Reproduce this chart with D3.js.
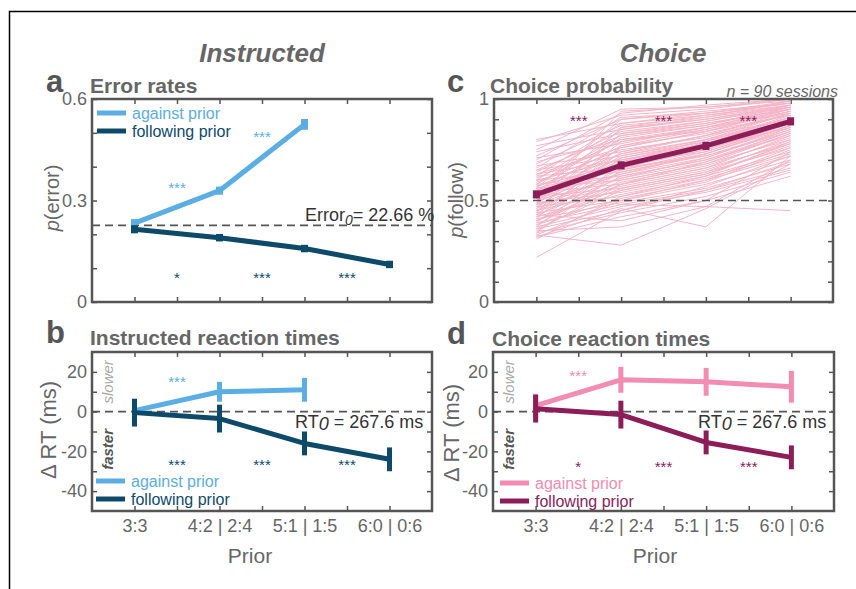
<!DOCTYPE html>
<html>
<head>
<meta charset="utf-8">
<script src="https://cdn.jsdelivr.net/npm/d3@7"></script>
<style>
  body { margin: 0; background: #fff; }
  text { font-family: "Liberation Sans", Arial, sans-serif; }
</style>
</head>
<body>
<div id="plot"></div>
<script>
// ---- data ----
let priorLabels = ["3:3", "4:2 | 2:4", "5:1 | 1:5", "6:0 | 0:6"]
let priorIdx = [1, 2, 3, 4]
let starPos = [1.5, 2.5, 3.5]

let errAgainst = [0.233, 0.329, 0.525]
let errAgainstSE = [0.012, 0.012, 0.016]
let errFollow = [0.215, 0.190, 0.158, 0.111]
let errFollowSE = [0.012, 0.011, 0.011, 0.011]
let errBaseline = 0.2266
let errStarsAgainst = ["***", "***"]
let errStarsAgainstY = [0.344, 0.494]
let errStarsFollow = ["*", "***", "***"]
let errStarsFollowY = 0.078

let choiceMean = [0.53, 0.673, 0.769, 0.89]
let choiceSE = [0.02, 0.02, 0.02, 0.02]
let choiceStars = ["***", "***", "***"]
let choiceStarsY = 0.9
let sessions = [
  [0.80,0.88,0.93,0.98],[0.79,0.92,0.95,1.00],[0.77,0.85,0.90,0.97],[0.75,0.95,0.96,0.99],
  [0.74,0.83,0.88,0.95],[0.72,0.90,0.94,0.98],[0.71,0.78,0.86,0.93],[0.70,0.93,0.97,1.00],
  [0.69,0.80,0.84,0.92],[0.68,0.87,0.91,0.97],[0.67,0.74,0.82,0.90],[0.66,0.91,0.93,0.99],
  [0.65,0.72,0.80,0.88],[0.64,0.84,0.89,0.96],[0.63,0.70,0.76,0.86],[0.62,0.88,0.92,0.97],
  [0.62,0.66,0.79,0.91],[0.61,0.79,0.85,0.94],[0.60,0.64,0.72,0.84],[0.60,0.86,0.90,0.96],
  [0.59,0.75,0.81,0.93],[0.58,0.62,0.70,0.82],[0.58,0.82,0.88,0.95],[0.57,0.68,0.78,0.90],
  [0.56,0.90,0.93,0.98],[0.56,0.60,0.68,0.80],[0.55,0.77,0.83,0.92],[0.55,0.65,0.74,0.87],
  [0.54,0.85,0.91,0.99],[0.54,0.58,0.66,0.78],[0.53,0.73,0.80,0.91],[0.53,0.63,0.71,0.85],
  [0.52,0.81,0.87,0.96],[0.52,0.56,0.64,0.76],[0.51,0.70,0.77,0.89],[0.51,0.94,0.96,1.00],
  [0.50,0.61,0.69,0.83],[0.50,0.76,0.84,0.94],[0.49,0.54,0.62,0.74],[0.49,0.67,0.75,0.88],
  [0.48,0.83,0.89,0.97],[0.48,0.57,0.65,0.79],[0.47,0.72,0.79,0.92],[0.47,0.52,0.60,0.72],
  [0.46,0.64,0.73,0.86],[0.46,0.79,0.86,0.95],[0.45,0.55,0.63,0.77],[0.45,0.69,0.76,0.90],
  [0.44,0.50,0.58,0.70],[0.44,0.86,0.92,0.98],[0.43,0.59,0.67,0.81],[0.43,0.74,0.82,0.93],
  [0.42,0.53,0.61,0.73],[0.42,0.66,0.72,0.85],[0.41,0.49,0.56,0.68],[0.41,0.77,0.85,0.95],
  [0.40,0.56,0.64,0.80],[0.40,0.62,0.70,0.84],[0.39,0.48,0.55,0.66],[0.39,0.71,0.78,0.91],
  [0.38,0.51,0.59,0.75],[0.38,0.60,0.68,0.83],[0.37,0.47,0.54,0.65],[0.37,0.68,0.74,0.88],
  [0.36,0.45,0.57,0.72],[0.36,0.55,0.63,0.78],[0.35,0.37,0.47,0.70],[0.35,0.58,0.66,0.82],
  [0.34,0.44,0.52,0.64],[0.34,0.65,0.73,0.87],[0.33,0.28,0.46,0.68],[0.33,0.50,0.60,0.76],
  [0.32,0.42,0.50,0.62],[0.32,0.46,0.37,0.72],[0.31,0.52,0.62,0.79],[0.22,0.45,0.55,0.69],
  [0.55,0.48,0.47,0.45],[0.60,0.70,0.78,0.90],[0.57,0.73,0.82,0.94],[0.63,0.76,0.84,0.95],
  [0.52,0.67,0.76,0.89],[0.48,0.63,0.73,0.87],[0.45,0.61,0.71,0.86],[0.58,0.80,0.86,0.96],
  [0.65,0.82,0.87,0.97],[0.40,0.58,0.69,0.84],[0.50,0.69,0.80,0.93],[0.43,0.40,0.50,0.74],
  [0.53,0.71,0.79,0.91],[0.56,0.66,0.75,0.88]
]

let rtInstrAgainst = [0.5, 10, 11]
let rtInstrAgainstSE = [2, 5, 6]
let rtInstrFollow = [-0.5, -3.5, -16, -24]
let rtInstrFollowSE = [7, 7, 6, 6]
let rtInstrStarsAgainst = ["***"]
let rtInstrStarsAgainstY = 16
let rtInstrStarsFollow = ["***", "***", "***"]
let rtInstrStarsFollowY = -26

let rtChoiceAgainst = [3, 16, 15, 12.5]
let rtChoiceAgainstSE = [6, 6.5, 7, 8]
let rtChoiceFollow = [1.5, -1.5, -15.5, -23]
let rtChoiceFollowSE = [7, 7, 6, 6]
let rtChoiceStarsAgainst = ["***"]
let rtChoiceStarsAgainstY = 19
let rtChoiceStarsFollow = ["*", "***", "***"]
let rtChoiceStarsFollowY = -27

// ---- colours ----
let lightBlue = "#5aaee3"
let darkBlue = "#0d4a6a"
let pink = "#f28cb0"
let plum = "#8c1d58"
let sessionPink = "#f5b5c9"
let axisGray = "#555"
let labelGray = "#666"

let svg = d3.select("#plot").append("svg")
  .attr("width", 856).attr("height", 589)

svg.append("rect").attr("width", 856).attr("height", 589).attr("fill", "#fff")

// outer frame (left + top)
svg.append("path")
  .attr("d", "M9.5,589 V11.5 H856")
  .attr("fill", "none").attr("stroke", "#000").attr("stroke-width", 1.5)

function makePanel(box, yDomain, yTickVals, yLabelVals, yFmt, showX) {
  let x = d3.scaleLinear().domain([0.5, 4.5]).range([box.x0, box.x1])
  let y = d3.scaleLinear().domain(yDomain).range([box.y1, box.y0])
  let g = svg.append("g")
  let xt = d3.range(1, 4.01, 0.5)

  let axes = g.append("g").attr("class", "axes")
  axes.append("g").attr("transform", `translate(0,${box.y1})`)
    .call(d3.axisBottom(x).tickValues(xt).tickSize(-5).tickPadding(8)
      .tickFormat(d => (showX && Number.isInteger(d)) ? priorLabels[d - 1] : ""))
  axes.append("g").attr("transform", `translate(0,${box.y0})`)
    .call(d3.axisTop(x).tickValues(xt).tickSize(-5).tickFormat(""))
  axes.append("g").attr("transform", `translate(${box.x0},0)`)
    .call(d3.axisLeft(y).tickValues(yTickVals).tickSize(-5).tickPadding(5)
      .tickFormat(d => yLabelVals.some(v => Math.abs(v - d) < 1e-9) ? yFmt(d) : ""))
  axes.append("g").attr("transform", `translate(${box.x1},0)`)
    .call(d3.axisRight(y).tickValues(yTickVals).tickSize(-5).tickFormat(""))
  axes.selectAll(".domain").remove()
  axes.selectAll(".tick line").attr("stroke", axisGray).attr("stroke-width", 1.5)
  axes.selectAll(".tick text").attr("fill", labelGray).style("font-size", "18px")
    .style("font-family", "'Liberation Sans', Arial, sans-serif")

  let plot = g.append("g")
  g.append("rect")
    .attr("x", box.x0).attr("y", box.y0)
    .attr("width", box.x1 - box.x0).attr("height", box.y1 - box.y0)
    .attr("fill", "none").attr("stroke", axisGray).attr("stroke-width", 2.5)
  return { x, y, g, plot }
}

function dashed(p, v) {
  p.plot.append("line")
    .attr("x1", p.x.range()[0]).attr("x2", p.x.range()[1])
    .attr("y1", p.y(v)).attr("y2", p.y(v))
    .attr("stroke", axisGray).attr("stroke-width", 1.6).attr("stroke-dasharray", "8,5")
}

function series(p, vals, se, color, lw, ebw) {
  let pts = vals.map((v, i) => ({ x: priorIdx[i], v: v, e: se[i] }))
  p.plot.append("path").datum(pts)
    .attr("fill", "none").attr("stroke", color).attr("stroke-width", lw)
    .attr("stroke-linejoin", "round")
    .attr("d", d3.line().x(d => p.x(d.x)).y(d => p.y(d.v)))
  p.plot.selectAll(null).data(pts).enter().append("line")
    .attr("x1", d => p.x(d.x)).attr("x2", d => p.x(d.x))
    .attr("y1", d => p.y(d.v - d.e)).attr("y2", d => p.y(d.v + d.e))
    .attr("stroke", color).attr("stroke-width", ebw)
}

function stars(p, labels, xs, ys, color) {
  p.plot.selectAll(null).data(labels).enter().append("text")
    .attr("x", (d, i) => p.x(xs[i]))
    .attr("y", (d, i) => p.y(Array.isArray(ys) ? ys[i] : ys) + 7)
    .attr("text-anchor", "middle").attr("fill", color)
    .style("font-size", "15px").text(d => d)
}

function legend(p, x0, yTop, color1, color2) {
  let items = [["against prior", color1], ["following prior", color2]]
  items.forEach((it, i) => {
    let yy = yTop + i * 18
    p.g.append("line").attr("x1", x0).attr("x2", x0 + 29)
      .attr("y1", yy).attr("y2", yy)
      .attr("stroke", it[1]).attr("stroke-width", 5)
    p.g.append("text").attr("x", x0 + 35).attr("y", yy + 6)
      .attr("fill", it[1]).style("font-size", "16px").text(it[0])
  })
}

function yLabel(x, y, parts, size) {
  let t = svg.append("text")
    .attr("transform", `translate(${x},${y}) rotate(-90)`)
    .attr("text-anchor", "middle").attr("fill", labelGray).style("font-size", size + "px")
  parts.forEach(pt => t.append("tspan").style("font-style", pt[1] ? "italic" : "normal").text(pt[0]))
}

function slowerFaster(p, xx) {
  svg.append("text").attr("transform", `translate(${xx},${p.y(15)}) rotate(-90)`)
    .attr("text-anchor", "middle").attr("fill", "#aaa")
    .style("font-size", "15px").style("font-style", "italic").text("slower")
  svg.append("text").attr("transform", `translate(${xx},${p.y(-19)}) rotate(-90)`)
    .attr("text-anchor", "middle").attr("fill", "#555")
    .style("font-size", "15px").style("font-style", "italic").style("font-weight", "bold").text("faster")
}

function rtText(p, x, v) {
  let t = p.g.append("text").attr("x", x).attr("y", p.y(v))
    .attr("fill", "#333").style("font-size", "18px")
  t.append("tspan").text("RT")
  t.append("tspan").style("font-style", "italic").attr("dy", 2).text("0")
  t.append("tspan").attr("dy", -2).text(" = 267.6 ms")
}

// ---- panel a ----
let pa = makePanel({ x0: 92, x1: 432, y0: 99, y1: 302 }, [0, 0.6],
  d3.range(0, 0.601, 0.1), [0, 0.3, 0.6], d => d === 0 ? "0" : d3.format(".1f")(d), false)
dashed(pa, errBaseline)
series(pa, errAgainst, errAgainstSE, lightBlue, 5, 7)
series(pa, errFollow, errFollowSE, darkBlue, 5, 7)
stars(pa, errStarsAgainst, starPos, errStarsAgainstY, lightBlue)
stars(pa, errStarsFollow, starPos, errStarsFollowY, darkBlue)
legend(pa, 97, 113, lightBlue, darkBlue)
let et = pa.g.append("text").attr("x", 305).attr("y", pa.y(errBaseline) - 4)
  .attr("fill", "#333").style("font-size", "18px")
et.append("tspan").text("Error")
et.append("tspan").style("font-style", "italic").style("font-size", "14px").attr("dy", 4).text("0")
et.append("tspan").attr("dy", -4).text("= 22.66 %")

// ---- panel c ----
let pc = makePanel({ x0: 494, x1: 833, y0: 99, y1: 302 }, [0, 1],
  d3.range(0, 1.001, 0.1), [0, 0.5, 1], d => d === 0 || d === 1 ? String(d) : d3.format(".1f")(d), false)
pc.plot.selectAll(".session").data(sessions).enter().append("path")
  .attr("class", "session")
  .attr("fill", "none").attr("stroke", sessionPink).attr("stroke-width", 1)
  .attr("d", d3.line().x((d, i) => pc.x(priorIdx[i])).y(d => pc.y(d)))
dashed(pc, 0.5)
series(pc, choiceMean, choiceSE, plum, 5, 7)
stars(pc, choiceStars, starPos, choiceStarsY, plum)

// ---- panel b ----
let pb = makePanel({ x0: 92, x1: 432, y0: 352, y1: 511 }, [-50, 30],
  d3.range(-40, 20.01, 10), [-40, -20, 0, 20], d => String(d), true)
dashed(pb, 0)
series(pb, rtInstrAgainst, rtInstrAgainstSE, lightBlue, 5, 5)
series(pb, rtInstrFollow, rtInstrFollowSE, darkBlue, 5, 5)
stars(pb, rtInstrStarsAgainst, [1.5], rtInstrStarsAgainstY, lightBlue)
stars(pb, rtInstrStarsFollow, starPos, rtInstrStarsFollowY, darkBlue)
legend(pb, 96, 481, lightBlue, darkBlue)
rtText(pb, 295, -8)
slowerFaster(pb, 113)

// ---- panel d ----
let pd = makePanel({ x0: 493, x1: 834, y0: 352, y1: 511 }, [-50, 30],
  d3.range(-40, 20.01, 10), [-40, -20, 0, 20], d => String(d), true)
dashed(pd, 0)
series(pd, rtChoiceAgainst, rtChoiceAgainstSE, pink, 5, 5)
series(pd, rtChoiceFollow, rtChoiceFollowSE, plum, 5, 5)
stars(pd, rtChoiceStarsAgainst, [1.5], rtChoiceStarsAgainstY, pink)
stars(pd, rtChoiceStarsFollow, starPos, rtChoiceStarsFollowY, plum)
legend(pd, 500, 483, pink, plum)
rtText(pd, 698, -8)
slowerFaster(pd, 514)

// ---- titles and labels ----
function txt(x, y, s, size, opts) {
  let t = svg.append("text").attr("x", x).attr("y", y).attr("fill", (opts && opts.fill) || labelGray)
    .style("font-size", size + "px").text(s)
  if (opts && opts.bold) t.style("font-weight", "bold")
  if (opts && opts.italic) t.style("font-style", "italic")
  if (opts && opts.anchor) t.attr("text-anchor", opts.anchor)
  return t
}
txt(262, 62, "Instructed", 26, { bold: true, italic: true, anchor: "middle" })
txt(663, 62, "Choice", 26, { bold: true, italic: true, anchor: "middle" })
txt(46, 92, "a", 31, { bold: true, fill: "#555" })
txt(46, 343, "b", 31, { bold: true, fill: "#555" })
txt(447, 92, "c", 31, { bold: true, fill: "#555" })
txt(447, 344, "d", 31, { bold: true, fill: "#555" })
txt(90, 93, "Error rates", 21, { bold: true })
txt(90, 345, "Instructed reaction times", 21, { bold: true })
txt(490, 93, "Choice probability", 21, { bold: true })
txt(492, 346, "Choice reaction times", 21, { bold: true })
txt(838, 97, "n = 90 sessions", 16, { italic: true, anchor: "end" })
txt(250, 563, "Prior", 21, { anchor: "middle" })
txt(655, 563, "Prior", 21, { anchor: "middle" })

yLabel(59, 198, [["p", true], ["(error)", false]], 20)
yLabel(463, 200, [["p", true], ["(follow)", false]], 20)
yLabel(56, 430, [["\u0394 RT (ms)", false]], 22)
yLabel(459, 433, [["\u0394 RT (ms)", false]], 22)
</script>
</body>
</html>
